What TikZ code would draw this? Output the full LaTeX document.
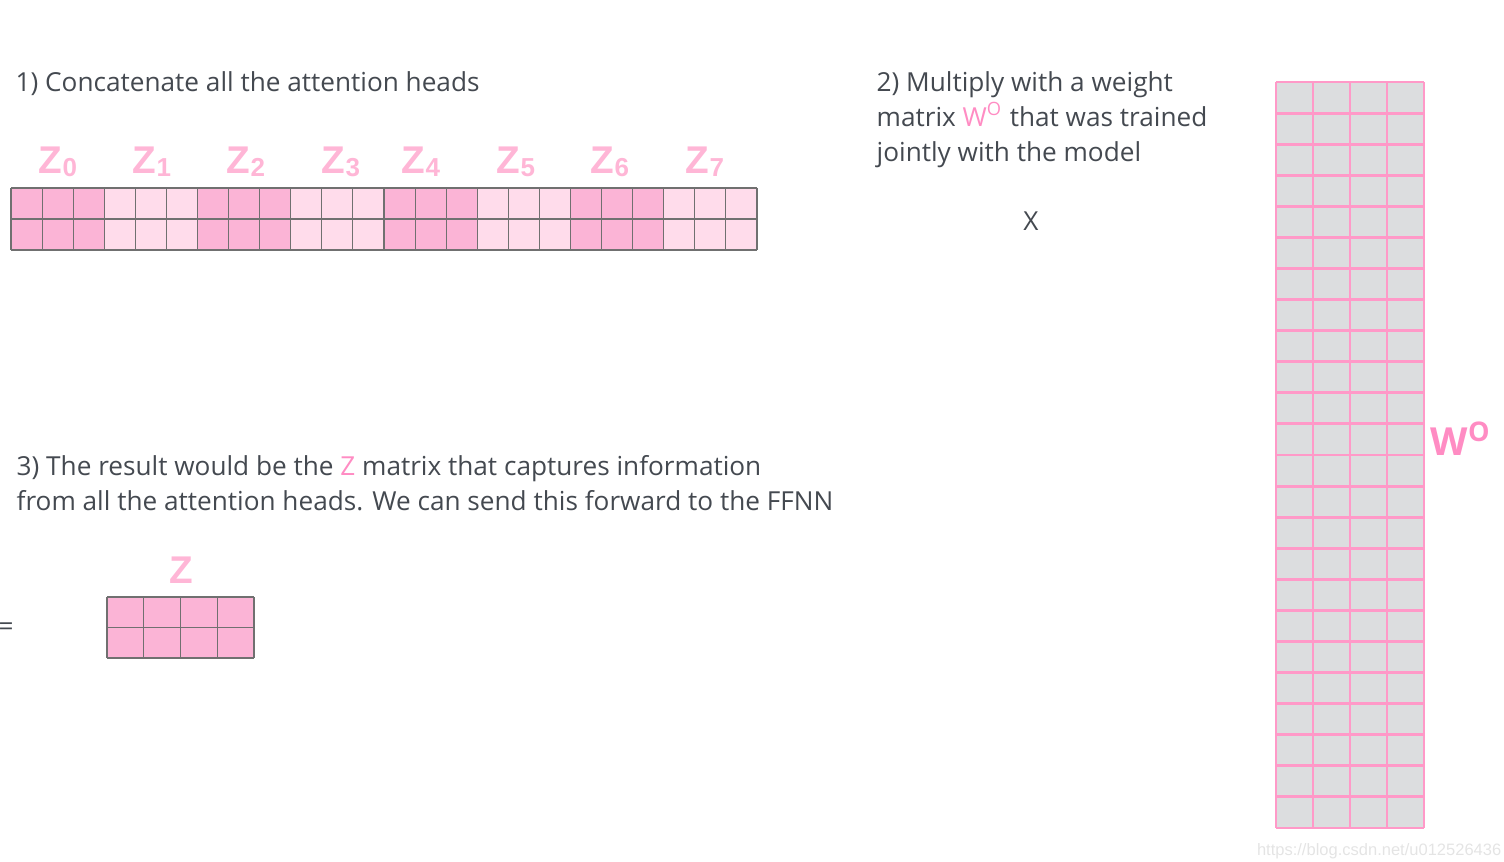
\documentclass[tikz,border=0pt]{standalone}
\usepackage{fontspec}
\setmainfont{Open Sans}
\newfontfamily\zfont{Liberation Sans}
\usetikzlibrary{positioning}
\definecolor{hdtext}{RGB}{68,73,80}
\definecolor{hdpink}{RGB}{255,140,195}
\definecolor{zpink}{RGB}{255,182,214}
\definecolor{headdark}{RGB}{251,180,214}
\definecolor{headlight}{RGB}{255,220,235}
\definecolor{cellgrid}{RGB}{112,112,112}
\definecolor{wgray}{RGB}{220,221,223}
\definecolor{wline}{RGB}{255,153,200}
\definecolor{wmark}{RGB}{228,228,228}
\tikzset{
  steptext/.style={anchor=base west,inner sep=0pt,text=hdtext},
  zlabel/.style={anchor=base,inner sep=0pt,text=zpink,font=\zfont\bfseries\fontsize{11}{12}\selectfont},
  cellline/.style={draw=cellgrid,line width=0.3pt},
  wgridline/.style={draw=wline,line width=0.85pt}
}
\newcommand{\zsub}[1]{{\fontsize{7.4}{8}\selectfont\raisebox{-0.9pt}{#1}}}

\begin{document}
\begin{tikzpicture}[x=0.1mm,y=-0.1mm,font=\fontsize{7.45}{9}\selectfont]
  \useasboundingbox (0,0) rectangle (1504,862);
  % 1) concatenated heads
  \node[steptext] (step1) at (15,91) {1) Concatenate all the attention heads};
  \foreach \g/\zx in {0/58,1/152,2/246,3/341,4/421,5/516,6/610,7/705}{
    \ifodd\g \def\gcol{headlight}\else \def\gcol{headdark}\fi
    \fill[\gcol] ({11+93.25*\g},188) rectangle ++(93.25,62);
    \node[zlabel] (z\g) at (\zx,173) {Z\zsub{\g}};
  }
  \foreach \c in {0,...,24}
    \draw[cellline] ({11+31.083*\c},188) -- ++(0,62);
  \foreach \r in {0,1,2}
    \draw[cellline] (11,{188+31*\r}) -- ++(746,0);

  % 2) weight matrix
  \node[steptext] (step2a) at (876,91) {2) Multiply with a weight};
  \node[steptext] (step2b) at (876,126) {matrix {\color{hdpink}W\textsuperscript{O}} that was trained};
  \node[steptext] (step2c) at (876,161) {jointly with the model};
  \node[text=hdtext,inner sep=0pt] (times) at (1031,221) {X};
  \fill[wgray] (1276,82) rectangle (1424,828);
  \foreach \c in {0,...,4}
    \draw[wgridline] ({1276+37*\c},82) -- (1276+37*\c,828);
  \foreach \r in {0,...,24}
    \draw[wgridline] (1276,{82+31.083*\r}) -- ++(148,0);
  \node[anchor=base west,inner sep=0pt,text=hdpink,font=\bfseries\fontsize{11}{12}\selectfont]
    (wlabel) at (1430,455) {W\textsuperscript{O}};

  % 3) result
  \node[steptext] (step3a) at (16,475) {3) The result would be the {\color{hdpink}Z} matrix that captures information};
  \node[steptext] (step3b) at (16,510) {from all the attention heads. We can send this forward to the FFNN};
  \node[text=hdtext,inner sep=0pt] (equals) at (6,629) {=};
  \fill[headdark] (107,597) rectangle (254,658);
  \foreach \c in {0,...,4}
    \draw[cellline] ({107+36.75*\c},597) -- ++(0,61);
  \foreach \r in {0,1,2}
    \draw[cellline] (107,{597+30.5*\r}) -- ++(147,0);
  \node[zlabel] (zres) at (181,583) {Z};

  \node[anchor=base east,inner sep=0pt,text=wmark,font=\zfont\fontsize{4.7}{5}\selectfont]
    (mark) at (1502,855) {https://blog.csdn.net/u012526436};
\end{tikzpicture}
\end{document}
